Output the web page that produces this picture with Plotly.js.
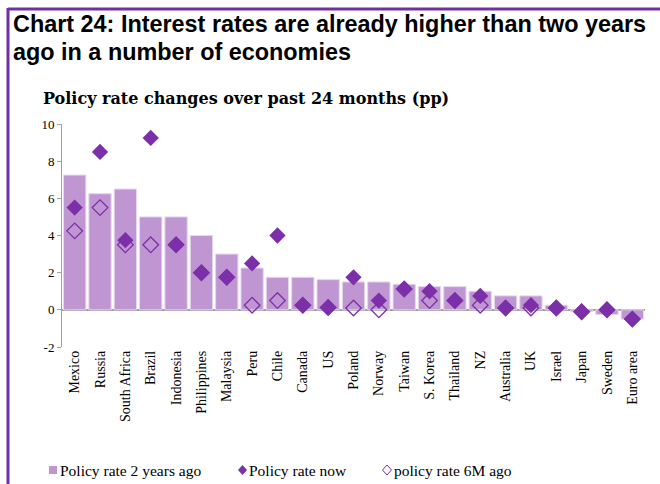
<!DOCTYPE html>
<html><head><meta charset="utf-8">
<script src="https://cdn.plot.ly/plotly-3.0.1.min.js"></script>
<style>html,body{margin:0;padding:0;background:#fff}#chart{width:660px;height:484px}</style>
</head><body><div id="chart"></div>
<script>
const countries = ["Mexico","Russia","South Africa","Brazil","Indonesia","Philippines","Malaysia","Peru","Chile","Canada","US","Poland","Norway","Taiwan","S. Korea","Thailand","NZ","Australia","UK","Israel","Japan","Sweden","Euro area"];
const rate2yAgo = [7.25,6.25,6.5,5.0,5.0,4.0,3.0,2.25,1.75,1.75,1.625,1.5,1.5,1.375,1.25,1.25,1.0,0.75,0.75,0.25,-0.1,-0.25,-0.5];
const rateNow   = [5.5,8.5,3.75,9.25,3.5,2.0,1.75,2.5,4.0,0.25,0.125,1.75,0.5,1.125,1.0,0.5,0.75,0.1,0.25,0.1,-0.1,0.0,-0.5];
const rate6mAgo = [4.25,5.5,3.5,3.5,3.5,2.0,1.75,0.25,0.5,0.25,0.125,0.1,0.0,1.125,0.5,0.5,0.25,0.1,0.1,0.1,-0.1,0.0,-0.5];
const yTicks = [-2,0,2,4,6,8,10];
const seriesNames = ["Policy rate 2 years ago","Policy rate now","policy rate 6M ago"];

const purple = "#7B2FA8";
const barCol = "#BF96D2";
const serif = "Liberation Serif, serif";

const traces = [
  {type:"bar", x:countries, y:rate2yAgo, name:seriesNames[0],
   marker:{color:barCol, line:{color:"#E6D6EE", width:1}}},
  {type:"scatter", mode:"markers", x:countries, y:rate6mAgo, name:seriesNames[2],
   marker:{symbol:"diamond-open", size:12, color:purple, line:{width:1.3, color:purple}}},
  {type:"scatter", mode:"markers", x:countries, y:rateNow, name:seriesNames[1],
   marker:{symbol:"diamond", size:12.5, color:purple}}
];

const L = 62, R = 15, T = 124, B = 137;
const pw = 660 - L - R, ph = 484 - T - B;
const px = v => (v - L) / pw;
const py = v => (484 - B - v) / ph;

const legendFont = {family:serif, size:15.5, color:"#000"};
const diamondPath = (cx, cy) => {
  const w = 4.5, h = 5;
  return `M${px(cx-w)},${py(cy)} L${px(cx)},${py(cy-h)} L${px(cx+w)},${py(cy)} L${px(cx)},${py(cy+h)} Z`;
};

const layout = {
  width:660, height:484,
  margin:{l:L, r:R, t:T, b:B, autoexpand:false},
  paper_bgcolor:"#fff", plot_bgcolor:"#fff",
  showlegend:false,
  bargap:0.12,
  xaxis:{type:"category", range:[-0.5, countries.length - 0.5], tickangle:-90,
         tickfont:{family:serif, size:14, color:"#000"},
         showline:false, ticks:"", showgrid:false, zeroline:false, automargin:false},
  yaxis:{range:[-2,10], tickvals:yTicks, ticktext:yTicks.map(String), showgrid:false,
         zeroline:true, zerolinecolor:"#A0A0A0", zerolinewidth:1.5,
         showline:true, linecolor:"#A0A0A0", linewidth:1, ticks:"outside", ticklen:4,
         tickcolor:"#A0A0A0", tickfont:{family:serif, size:13, color:"#000"}, automargin:false},
  shapes:[
    {type:"line", xref:"paper", yref:"paper", x0:px(8), x1:px(662), y0:py(9), y1:py(9),
     line:{color:"#7030A0", width:3}},
    {type:"line", xref:"paper", yref:"paper", x0:px(8), x1:px(8), y0:py(8), y1:py(486),
     line:{color:"#7030A0", width:3}},
    {type:"rect", xref:"paper", yref:"paper", x0:px(49), x1:px(57), y0:py(466), y1:py(474),
     fillcolor:barCol, line:{width:0}},
    {type:"path", xref:"paper", yref:"paper", path:diamondPath(242.5,470),
     fillcolor:purple, line:{width:0}},
    {type:"path", xref:"paper", yref:"paper", path:diamondPath(387,470),
     fillcolor:"rgba(0,0,0,0)", line:{color:purple, width:1}}
  ],
  annotations:[
    {xref:"paper", yref:"paper", x:px(11), y:py(24), xanchor:"left", yanchor:"middle", showarrow:false,
     text:"<b>Chart 24: Interest rates are already higher than two years</b>",
     font:{family:"Liberation Sans, Arial, sans-serif", size:23.4, color:"#000"}},
    {xref:"paper", yref:"paper", x:px(11), y:py(51.5), xanchor:"left", yanchor:"middle", showarrow:false,
     text:"<b>ago in a number of economies</b>",
     font:{family:"Liberation Sans, Arial, sans-serif", size:23.4, color:"#000"}},
    {xref:"paper", yref:"paper", x:px(41), y:py(99), xanchor:"left", yanchor:"middle", showarrow:false,
     text:"<b>Policy rate changes over past 24 months (pp)</b>",
     font:{family:"DejaVu Serif, serif", size:16, color:"#000"}},
    {xref:"paper", yref:"paper", x:px(58), y:py(470), xanchor:"left", yanchor:"middle", showarrow:false,
     text:seriesNames[0], font:legendFont},
    {xref:"paper", yref:"paper", x:px(247), y:py(470), xanchor:"left", yanchor:"middle", showarrow:false,
     text:seriesNames[1], font:legendFont},
    {xref:"paper", yref:"paper", x:px(392), y:py(470), xanchor:"left", yanchor:"middle", showarrow:false,
     text:seriesNames[2], font:legendFont}
  ]
};
Plotly.newPlot("chart", traces, layout, {displayModeBar:false, staticPlot:true});
</script></body></html>
